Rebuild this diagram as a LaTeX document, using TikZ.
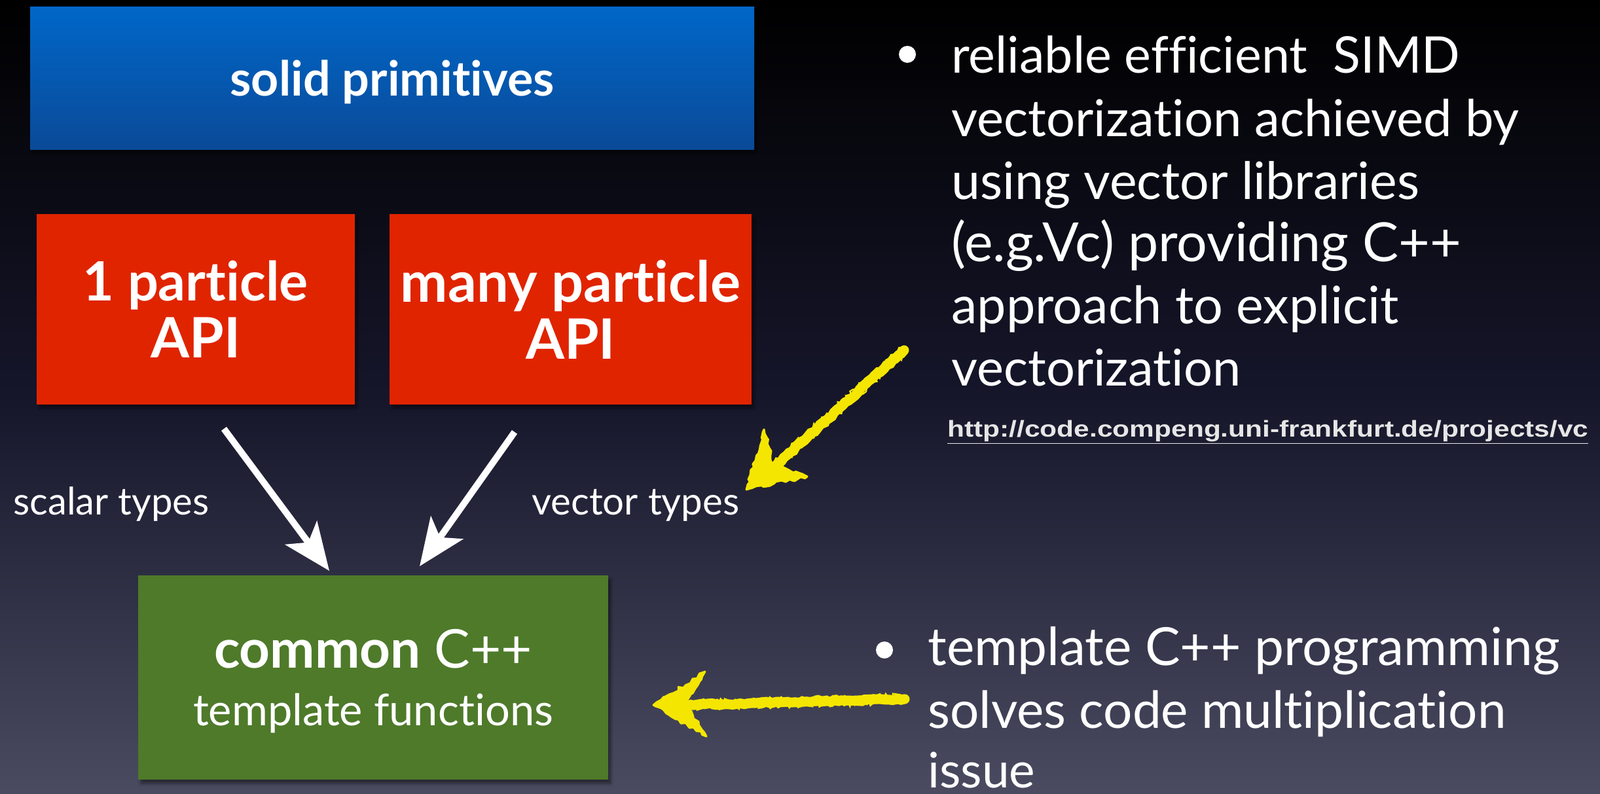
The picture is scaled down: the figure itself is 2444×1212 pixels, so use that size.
\documentclass[tikz,border=0pt]{standalone}
\usepackage{fontspec}
\setmainfont{Lato}[Ligatures=NoCommon]
\newfontfamily\urlfont{Liberation Sans}
\usetikzlibrary{arrows.meta,shadows.blur,decorations.pathmorphing}
\definecolor{bgtop}{HTML}{000000}
\definecolor{bgmid}{HTML}{16162B}
\definecolor{bgbot}{HTML}{4A4B60}
\definecolor{blueT}{HTML}{0067C8}
\definecolor{blueB}{HTML}{0A4A98}
\definecolor{redbox}{HTML}{E02400}
\definecolor{greenbox}{HTML}{4E7A2A}
\definecolor{chalk}{HTML}{F4E600}
\definecolor{urlgray}{HTML}{E6E6E6}
\newcommand{\fitw}[2]{\resizebox{#1pt}{!}{#2}}
\begin{document}
\begin{tikzpicture}[x=0.5pt,y=-0.5pt,
  boxbase/.style={inner sep=0pt, text=white, align=center,
    blur shadow={shadow xshift=2pt, shadow yshift=-3pt, shadow opacity=45, shadow blur steps=6}},
  bodytext/.style={anchor=base west, inner sep=0pt, text=white, font=\fontsize{38}{44}\selectfont},
  smalllabel/.style={anchor=base west, inner sep=0pt, text=white, font=\fontsize{28}{32}\selectfont},
  bulletdot/.style={circle, fill=white, inner sep=0pt, minimum size=13pt},
  whitearrow/.style={draw=white, line width=5pt, -{Stealth[length=36pt,width=30pt,inset=9pt,fill=white]}},
  chalkline/.style={draw=chalk, line cap=round, decorate,
    decoration={random steps, segment length=3pt, amplitude=0.8pt}},
  chalkfuzz/.style={draw=chalk, line width=1.2pt, line cap=round, decorate,
    decoration={random steps, segment length=2pt, amplitude=1.6pt}},
  chalkhead/.style={fill=chalk, draw=chalk, line width=1.5pt, line join=round, decorate,
    decoration={random steps, segment length=3pt, amplitude=1.4pt}}
]
\useasboundingbox (0,0) rectangle (2444,1212);
% background
\shade[top color=bgtop, bottom color=bgbot, middle color=bgmid] (0,0) rectangle (2444,1212);

% boxes
\node[boxbase, top color=blueT, bottom color=blueB, minimum width=553pt, minimum height=109pt,
  text depth=0pt, font=\bfseries\fontsize{30}{36}\selectfont] (prim) at (599,119)
  {\fitw{247.5}{solid primitives}};
\node[boxbase, fill=redbox, minimum width=243pt, minimum height=145.5pt,
  font=\bfseries\fontsize{38}{43.5}\selectfont] (one) at (299,472.5)
  {\fitw{172}{1 particle}\\\fitw{68.5}{API}};
\node[boxbase, fill=redbox, minimum width=276.5pt, minimum height=145.5pt,
  font=\bfseries\fontsize{38}{43.5}\selectfont] (many) at (871.5,472.5)
  {\fitw{259.5}{many particle}\\\fitw{68.5}{API}};
\node[boxbase, fill=greenbox, minimum width=359pt, minimum height=156pt, text depth=0pt,
  font=\fontsize{32}{44}\selectfont] (common) at (570,1035)
  {\fitw{243}{\textbf{common} C++}\\\fitw{275}{template functions}};

% white arrows
\coordinate (w1s) at (342,655);
\coordinate (w1e) at (503,872);
\coordinate (w2s) at (786,660);
\coordinate (w2e) at (641,865);
\draw[whitearrow] (w1s) -- (w1e);
\draw[whitearrow] (w2s) -- (w2e);

% labels
\node[smalllabel] (scalar) at (20,786) {\fitw{149.5}{scalar types}};
\node[smalllabel] (vector) at (812,786) {\fitw{158.5}{vector types}};

% bullet 1
\node[bulletdot] (b1) at (1386,83) {};
\node[bodytext] (l1) at (1453,111) {\fitw{388.5}{reliable efficient\ \ SIMD}};
\node[bodytext] (l2) at (1453,208) {\fitw{433.5}{vectorization achieved by}};
\node[bodytext] (l3) at (1453,304) {\fitw{357.5}{using vector libraries}};
\node[bodytext] (l4) at (1453,399) {\fitw{389.5}{(e.g.Vc) providing C++}};
\node[bodytext] (l5) at (1453,494) {\fitw{341.5}{approach to explicit}};
\node[bodytext] (l6) at (1453,589) {\fitw{221}{vectorization}};
\node[anchor=base west, inner sep=0pt, text=urlgray] (url) at (1447,667)
  {\resizebox{489.5pt}{\height}{\urlfont\bfseries\fontsize{17.5}{21}\selectfont\underline{http://code.compeng.uni-frankfurt.de/projects/vc}}};

% bullet 2
\node[bulletdot] (b2) at (1351,993) {};
\node[bodytext] (m1) at (1417,1016) {\fitw{482.5}{template C++ programming}};
\node[bodytext] (m2) at (1417,1112) {\fitw{441.5}{solves code multiplication}};
\node[bodytext] (m3) at (1417,1203) {\fitw{82}{issue}};

% yellow chalk arrow 1
\coordinate (y1s) at (1381,535);
\coordinate (y1h) at (1186,710);
\coordinate (y1e) at (1140,748);
\draw[chalkline, line width=7.5pt] (y1s) -- (y1h);
\draw[chalkfuzz] ([shift={(2,5)}]y1s) -- ([shift={(2,5)}]y1h);
\draw[chalkfuzz] ([shift={(-4,-4)}]y1s) -- ([shift={(-4,-4)}]y1h);
\path[chalkhead] (y1e) -- (1167,656) -- (1181,710) -- (1233,728) -- cycle;

% yellow chalk arrow 2
\coordinate (y2s) at (1382,1068);
\coordinate (y2h) at (1050,1077);
\coordinate (y2e) at (998,1077);
\draw[chalkline, line width=7.5pt] (y2s) -- (y2h);
\draw[chalkfuzz] ([shift={(0,6)}]y2s) -- ([shift={(0,5)}]y2h);
\draw[chalkfuzz] ([shift={(0,-6)}]y2s) -- ([shift={(0,-5)}]y2h);
\path[chalkhead] (y2e) -- (1077,1026) -- (1048,1077) -- (1079,1125) -- cycle;
\end{tikzpicture}
\end{document}
